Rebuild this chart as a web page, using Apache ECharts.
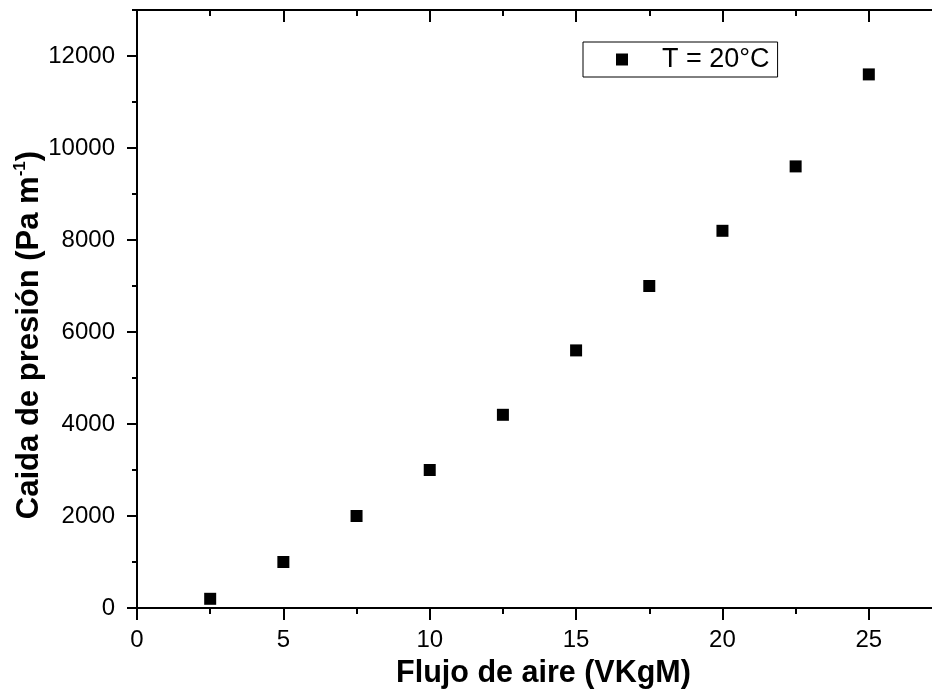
<!DOCTYPE html>
<html>
<head>
<meta charset="utf-8">
<script src="https://cdn.jsdelivr.net/npm/echarts@6/dist/echarts.min.js"></script>
<style>html,body{margin:0;padding:0;background:#fff;}#c{width:932px;height:693px;}</style>
</head>
<body>
<div id="c"></div>
<script>
const flujo = [2.5, 5, 7.5, 10, 12.5, 15, 17.5, 20, 22.5, 25];
const caida = [200, 1000, 2000, 3000, 4200, 5600, 7000, 8200, 9600, 11600];
const seriesName = 'T = 20°C';
const xTitle = 'Flujo de aire (VKgM)';
const yTitleMain = 'Caida de presión (Pa m';
const yTitleSup = '-1';

const FONT = 'Liberation Sans, Arial, sans-serif';
const X_MIN = 0, X_MAX = 27.5, Y_MIN = 0, Y_MAX = 13000;
const line = { show: true, onZero: false, lineStyle: { color: '#000', width: 2 } };

function xAx(pos, interval, len, inside, labels) {
  return {
    type: 'value', position: pos, min: X_MIN, max: X_MAX, interval: interval,
    axisLine: line, splitLine: { show: false },
    axisTick: { show: true, inside: inside, length: len, lineStyle: { color: '#000', width: 2 } },
    axisLabel: labels ? { show: true, color: '#000', fontFamily: FONT, fontSize: 24, margin: 20, showMaxLabel: false, formatter: v => String(v) } : { show: false }
  };
}
function yAx(pos, interval, len, inside, labels) {
  return {
    type: 'value', position: pos, min: Y_MIN, max: Y_MAX, interval: interval,
    axisLine: line, splitLine: { show: false },
    axisTick: { show: true, inside: inside, length: len, lineStyle: { color: '#000', width: 2 } },
    axisLabel: labels ? { show: true, color: '#000', fontFamily: FONT, fontSize: 24, margin: 22, showMaxLabel: false, formatter: v => String(v) } : { show: false }
  };
}

const xMain = xAx('bottom', 5, 12, false, true);
xMain.name = xTitle;
xMain.nameLocation = 'middle';
xMain.nameGap = 50;
xMain.nameMoveOverlap = false;
xMain.nameTextStyle = { color: '#000', fontFamily: FONT, fontSize: 30.5, fontWeight: 'bold', padding: [0, 0, 0, 8] };

const yMain = yAx('left', 2000, 10, false, true);
yMain.name = '{a|' + yTitleMain + '}{s|' + yTitleSup + '}{a|)}';
yMain.nameLocation = 'middle';
yMain.nameGap = 91;
yMain.nameMoveOverlap = false;
yMain.nameRotate = 90;
yMain.nameTextStyle = {
  color: '#000', fontFamily: FONT, fontWeight: 'bold', padding: [0, 52, 0, 0],
  rich: {
    a: { fontSize: 31, fontWeight: 'bold', fontFamily: FONT, color: '#000', lineHeight: 34 },
    s: { fontSize: 17, fontWeight: 'bold', fontFamily: FONT, color: '#000', lineHeight: 17, verticalAlign: 'top' }
  }
};

const chart = echarts.init(document.getElementById('c'), null, { renderer: 'canvas' });
chart.setOption({
  animation: false,
  backgroundColor: '#fff',
  grid: { left: 137, right: -10, top: 10, bottom: 85, containLabel: false, outerBoundsMode: 'none' },
  xAxis: [
    xMain,
    xAx('bottom', 2.5, 6, false, false),
    xAx('top', 5, 12, true, false),
    xAx('top', 2.5, 6, true, false)
  ],
  yAxis: [
    yMain,
    yAx('left', 1000, 5, false, false),
    yAx('right', 2000, 10, true, false),
    yAx('right', 1000, 5, true, false)
  ],
  legend: {
    show: true, left: 583, top: 42, orient: 'horizontal',
    borderColor: '#000', borderWidth: 1, borderRadius: 0,
    padding: [4, 8, 4, 33],
    itemWidth: 12, itemHeight: 12, icon: 'rect',
    itemStyle: { opacity: 1 },
    textStyle: { color: '#000', fontFamily: FONT, fontSize: 27, padding: [0, 0, 0, 29] },
    data: [seriesName]
  },
  series: [{
    name: seriesName, type: 'scatter', xAxisIndex: 0, yAxisIndex: 0,
    symbol: 'rect', symbolSize: 12,
    itemStyle: { color: '#000', opacity: 1 },
    data: flujo.map((x, i) => [x, caida[i]])
  }]
});
</script>
</body>
</html>
